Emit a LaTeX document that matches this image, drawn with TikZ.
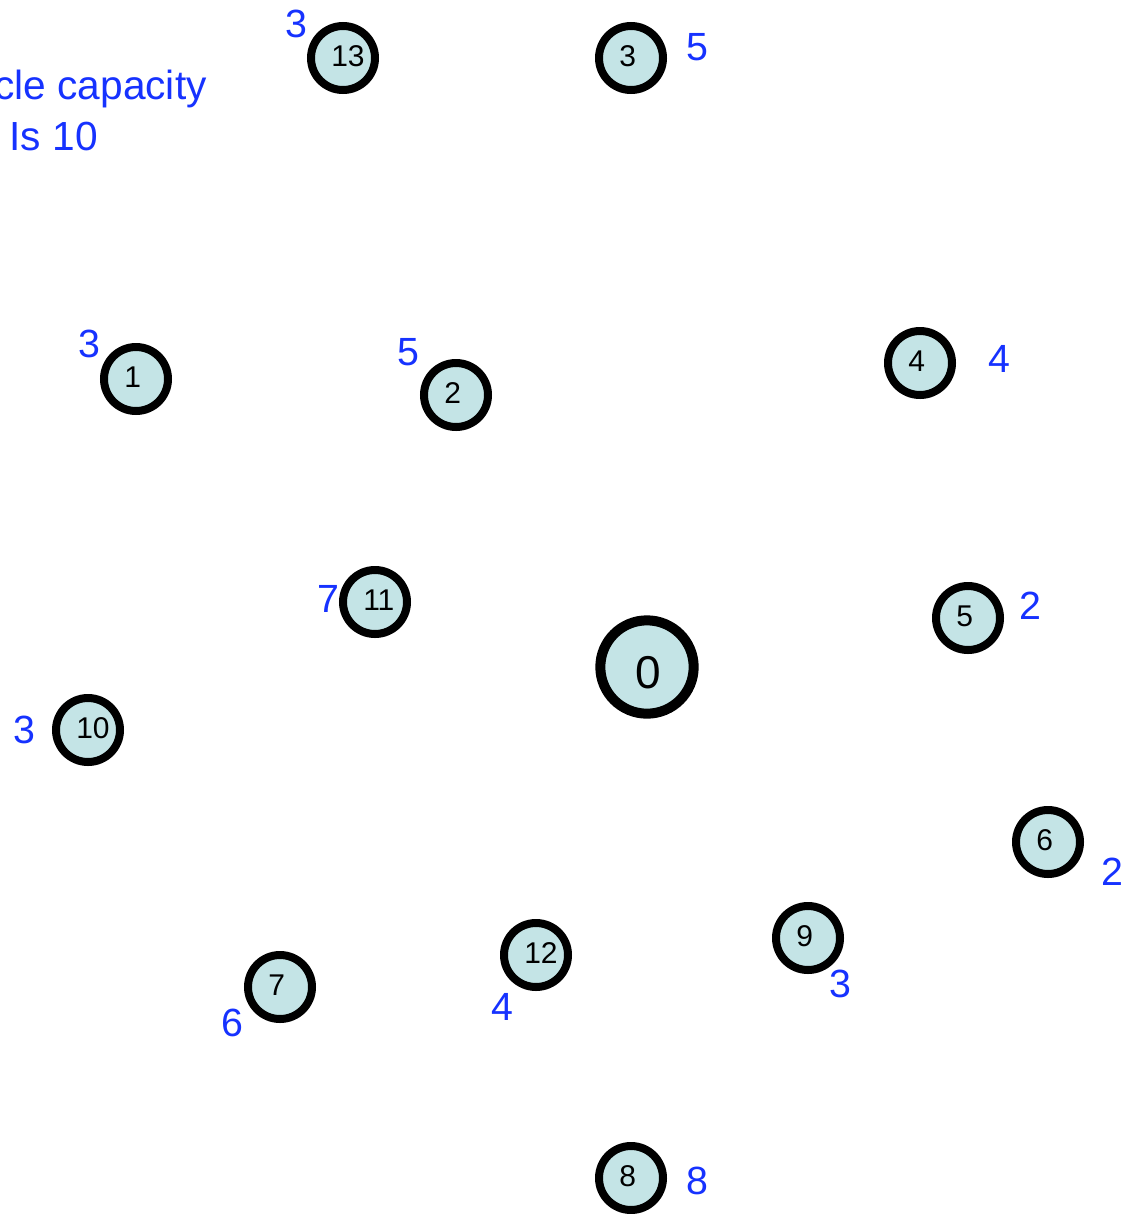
\documentclass[tikz,border=0pt]{standalone}
\usepackage{fontspec}
\setmainfont{Liberation Sans}
\usetikzlibrary{calc}
\definecolor{lblblue}{RGB}{22,50,255}
\definecolor{nodefill}{RGB}{196,228,230}
\begin{document}
\begin{tikzpicture}[x=0.75pt,y=-0.75pt,
  cust/.style={circle,draw=black,fill=nodefill,line width=6pt,minimum size=48pt,inner sep=0pt},
  depot/.style={circle,draw=black,fill=nodefill,line width=7.5pt,minimum size=70pt,inner sep=0pt},
  idtxt/.style={anchor=west,inner sep=0pt,font=\fontsize{22.5}{27}\selectfont},
  deptxt/.style={anchor=west,inner sep=0pt,font=\fontsize{34.5}{40}\selectfont},
  demand/.style={inner sep=0pt,text=lblblue,font=\fontsize{29.5}{34}\selectfont},
  note/.style={anchor=base east,inner sep=0pt,text=lblblue,font=\fontsize{30.5}{36}\selectfont}]
\useasboundingbox (0,0) rectangle (1129,1214);
\clip (0,0) rectangle (1129,1214);
% capacity note
\node[note] (cap1) at (207,99) {Vehicle capacity};
\node[note] (cap2) at (98,150) {Is 10};
% depot
\node[depot] (n0) at (647,667) {};
\node[deptxt] (t0) at ($(n0)+(-12,6)$) {0};
% customers
\foreach \id/\cx/\cy/\dem/\dx/\dy in {
  13/343/58/3/296/24,
  3/631/58/5/697/47,
  1/136/379/3/89/344,
  2/456/395/5/408/352,
  4/920/363/4/999/359,
  11/375/602/7/328/599,
  5/968/618/2/1030/606,
  10/88/730/3/24/730,
  6/1048/842/2/1112/872,
  9/808/938/3/840/984,
  12/536/955/4/502/1007,
  7/280/987/6/232/1023,
  8/631/1178/8/697/1181}{
  \node[cust] (n\id) at (\cx,\cy) {};
  \node[idtxt] (t\id) at ($(n\id)+(-12,-2)$) {\id};
  \node[demand] (d\id) at (\dx,\dy) {\dem};
}
\end{tikzpicture}
\end{document}
